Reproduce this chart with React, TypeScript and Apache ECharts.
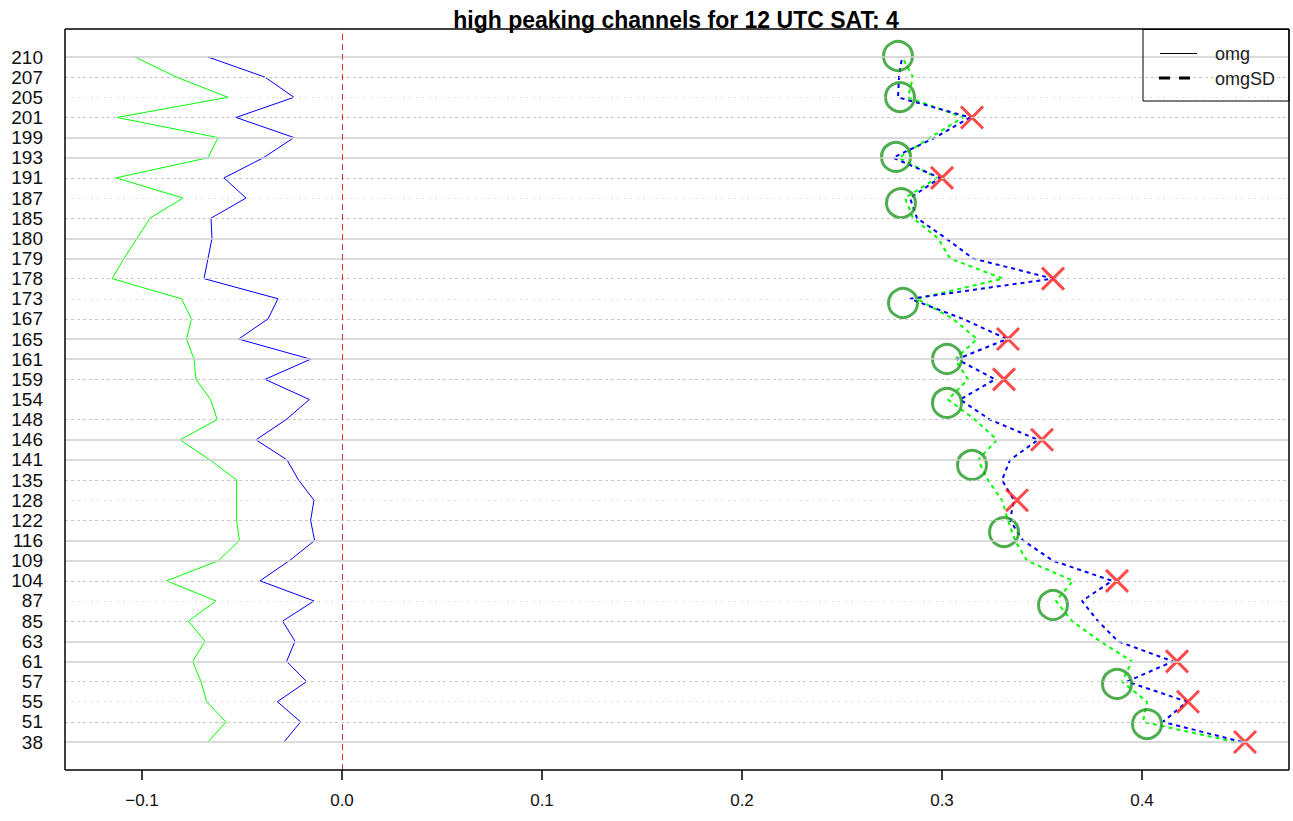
import React, { useEffect, useRef } from "react";
import * as echarts from "echarts";

const channels = ["38","51","55","57","61","63","85","87","104","109","116","122","128","135","141","146","148","154","159","161","165","167","173","178","179","180","185","187","191","193","199","201","205","207","210"];

const omgGreen = [-0.067,-0.058,-0.0677,-0.0705,-0.0747,-0.0685,-0.0768,-0.063,-0.0877,-0.0618,-0.0513,-0.0527,-0.0527,-0.0527,-0.066,-0.081,-0.0624,-0.0657,-0.073,-0.074,-0.0777,-0.0753,-0.0803,-0.115,-0.109,-0.1025,-0.096,-0.0795,-0.113,-0.067,-0.062,-0.1125,-0.057,-0.0827,-0.1035];
const omgBlue = [-0.029,-0.0207,-0.0323,-0.0177,-0.0277,-0.0235,-0.0297,-0.014,-0.041,-0.0263,-0.0137,-0.0157,-0.014,-0.0217,-0.0275,-0.043,-0.028,-0.0163,-0.0385,-0.0157,-0.0517,-0.037,-0.032,-0.069,-0.067,-0.065,-0.0655,-0.048,-0.059,-0.0393,-0.024,-0.053,-0.024,-0.0385,-0.067];
const sdBlue = [0.450,0.4105,0.4225,0.3925,0.4155,0.388,0.378,0.370,0.385,0.3555,0.3405,0.334,0.336,0.330,0.334,0.348,0.324,0.309,0.3265,0.3075,0.3325,0.3105,0.284,0.3555,0.3155,0.302,0.2875,0.284,0.299,0.2755,0.2965,0.314,0.278,0.2785,0.280];
const sdGreen = [0.4465,0.4005,0.4025,0.390,0.395,0.379,0.365,0.357,0.3655,0.3425,0.3365,0.333,0.330,0.323,0.318,0.3275,0.3165,0.303,0.313,0.3065,0.3175,0.3055,0.2875,0.3305,0.304,0.298,0.2855,0.2815,0.2975,0.2785,0.294,0.3105,0.283,0.2855,0.280];

const crossIdx = [0,2,4,8,12,15,18,20,23,28,31];
const crossX = [0.4515,0.423,0.4175,0.3875,0.3375,0.350,0.331,0.333,0.3555,0.300,0.315];

const circleY = [0.89,2.88,6.8,10.42,13.75,16.83,19.01,21.79,26.75,29.04,32.01,34.05];
const circleX = [0.4025,0.3875,0.3555,0.331,0.315,0.3025,0.3025,0.2805,0.2795,0.277,0.279,0.278];

// grid line style per channel (bottom-up): s = solid, d = dashed, o = sparse dotted, n = none
const gridStyles = ["s","d","o","d","s","s","d","o","d","s","s","d","o","d","s","s","d","n","d","s","s","d","o","d","s","s","d","o","d","s","s","d","o","d","s"];

const xTicks = [-0.1, 0, 0.1, 0.2, 0.3, 0.4];
const title = "high peaking channels for 12 UTC SAT: 4";
const legendNames = ["omg", "omgSD"];

const X_MIN = -0.1385;
const X_MAX = 0.4735;
const FRAME_BOTTOM = -1.39; // lower edge of the plot frame
const FRAME_TOP = 35.39;    // upper edge of the plot frame
const AXIS_MIN = -1.886;    // a little below the frame, room for tick marks

export default function App() {
  const ref = useRef<HTMLDivElement>(null);
  useEffect(() => {
    if (!ref.current) return;
    const chart = echarts.init(ref.current, null, { renderer: "svg" });
    const font = "'Liberation Sans', Arial, Helvetica, sans-serif";

    const gridLines = channels.map((_, i) => {
      const s = gridStyles[i];
      if (s === "n") return null;
      const ls: any =
        s === "s" ? { type: "solid", color: "#cfcfcf", width: 1.5 } :
        s === "d" ? { type: [3, 3], color: "#c8c8c8", width: 1 } :
        { type: [1.5, 5], color: "#d4d4d4", width: 1 };
      return [{ coord: [X_MIN, i], lineStyle: ls }, { coord: [X_MAX, i] }];
    }).filter(Boolean);

    const frame = [
      [{ coord: [X_MIN, FRAME_BOTTOM] }, { coord: [X_MAX, FRAME_BOTTOM] }],
      [{ coord: [X_MIN, FRAME_TOP] }, { coord: [X_MAX, FRAME_TOP] }],
      [{ coord: [X_MIN, FRAME_BOTTOM] }, { coord: [X_MIN, FRAME_TOP] }],
      [{ coord: [X_MAX, FRAME_BOTTOM] }, { coord: [X_MAX, FRAME_TOP] }],
    ];
    const ticks = xTicks.map((t) => [{ coord: [t, FRAME_BOTTOM] }, { coord: [t, AXIS_MIN] }]);

    const idx = channels.map((_, i) => i);
    chart.setOption({
      animation: false,
      backgroundColor: "#ffffff",
      grid: { left: 65, right: 4, top: 29, bottom: 41, show: false },
      xAxis: {
        type: "value",
        min: X_MIN,
        max: X_MAX,
        splitLine: { show: false },
        axisLine: { show: false, onZero: false },
        axisTick: { show: false },
        axisLabel: {
          customValues: xTicks,
          margin: 12,
          fontSize: 17,
          fontFamily: font,
          color: "#111",
          formatter: (v: number) => (Math.abs(v) < 1e-9 ? "0.0" : v.toFixed(1).replace("-", "\u2212")),
        },
      },
      yAxis: {
        type: "value",
        min: AXIS_MIN,
        max: FRAME_TOP,
        splitLine: { show: false },
        axisLine: { show: false, onZero: false },
        axisTick: { show: false },
        axisLabel: {
          customValues: idx,
          margin: 22,
          fontSize: 19,
          fontFamily: font,
          color: "#111",
          formatter: (v: number) => channels[Math.round(v)] ?? "",
        },
      },
      graphic: [
        { type: "text", x: 676, y: 19.5, style: { text: title, font: `bold 23px ${font}`, fill: "#000", textAlign: "center", textVerticalAlign: "middle" } },
        { type: "rect", shape: { x: 1143, y: 29.5, width: 146, height: 71.5 }, style: { fill: "none", stroke: "#000", lineWidth: 1 }, z: 100 },
        { type: "line", shape: { x1: 1160, y1: 53.5, x2: 1197, y2: 53.5 }, style: { stroke: "#000", lineWidth: 1 }, z: 100 },
        { type: "line", shape: { x1: 1159, y1: 78, x2: 1197, y2: 78 }, style: { stroke: "#000", lineWidth: 3, lineDash: [11, 9] }, z: 100 },
        { type: "text", x: 1215, y: 54, style: { text: legendNames[0], font: `18px ${font}`, fill: "#222", textVerticalAlign: "middle" }, z: 100 },
        { type: "text", x: 1215, y: 79, style: { text: legendNames[1], font: `18px ${font}`, fill: "#222", textVerticalAlign: "middle" }, z: 100 },
      ],
      series: [
        {
          type: "line",
          data: [[0, 0]],
          showSymbol: false,
          symbol: "none",
          lineStyle: { opacity: 0 },
          silent: true,
          z: 1,
          markLine: {
            silent: true,
            symbol: ["none", "none"],
            label: { show: false },
            data: [
              ...gridLines,
              [
                { coord: [0, FRAME_BOTTOM], lineStyle: { type: [6, 4], color: "#e03030", width: 1 } },
                { coord: [0, FRAME_TOP] },
              ],
            ],
          },
        },
        {
          type: "line",
          data: [[0, 0]],
          showSymbol: false,
          symbol: "none",
          lineStyle: { opacity: 0 },
          silent: true,
          z: 10,
          markLine: {
            silent: true,
            symbol: ["none", "none"],
            label: { show: false },
            lineStyle: { type: "solid", color: "#000", width: 1.5 },
            data: [...frame, ...ticks],
          },
        },
        { type: "line", data: omgGreen.map((v, i) => [v, i]), symbol: "none", lineStyle: { color: "#00ff00", width: 1 }, z: 3 },
        { type: "line", data: omgBlue.map((v, i) => [v, i]), symbol: "none", lineStyle: { color: "#0000ff", width: 1 }, z: 3 },
        { type: "line", data: sdGreen.map((v, i) => [v, i]), symbol: "none", lineStyle: { color: "#00ff00", width: 2, type: [4, 4] }, z: 3 },
        { type: "line", data: sdBlue.map((v, i) => [v, i]), symbol: "none", lineStyle: { color: "#0000ff", width: 2, type: [4, 4] }, z: 3 },
        {
          type: "scatter",
          data: circleX.map((v, i) => [v, circleY[i]]),
          symbol: "circle",
          symbolSize: 29,
          itemStyle: { color: "transparent", borderColor: "#229922", borderWidth: 3 },
          z: 4,
        },
        {
          type: "scatter",
          data: crossX.map((v, i) => [v, crossIdx[i]]),
          symbol: "path://M0 0L20 20M20 0L0 20",
          symbolSize: 22,
          itemStyle: { color: "transparent", borderColor: "#ff1a1a", borderWidth: 3 },
          z: 4,
        },
      ],
    });
    return () => chart.dispose();
  }, []);
  return <div ref={ref} style={{ position: "fixed", left: 0, top: 0, width: 1293, height: 821, background: "#fff" }} />;
}
